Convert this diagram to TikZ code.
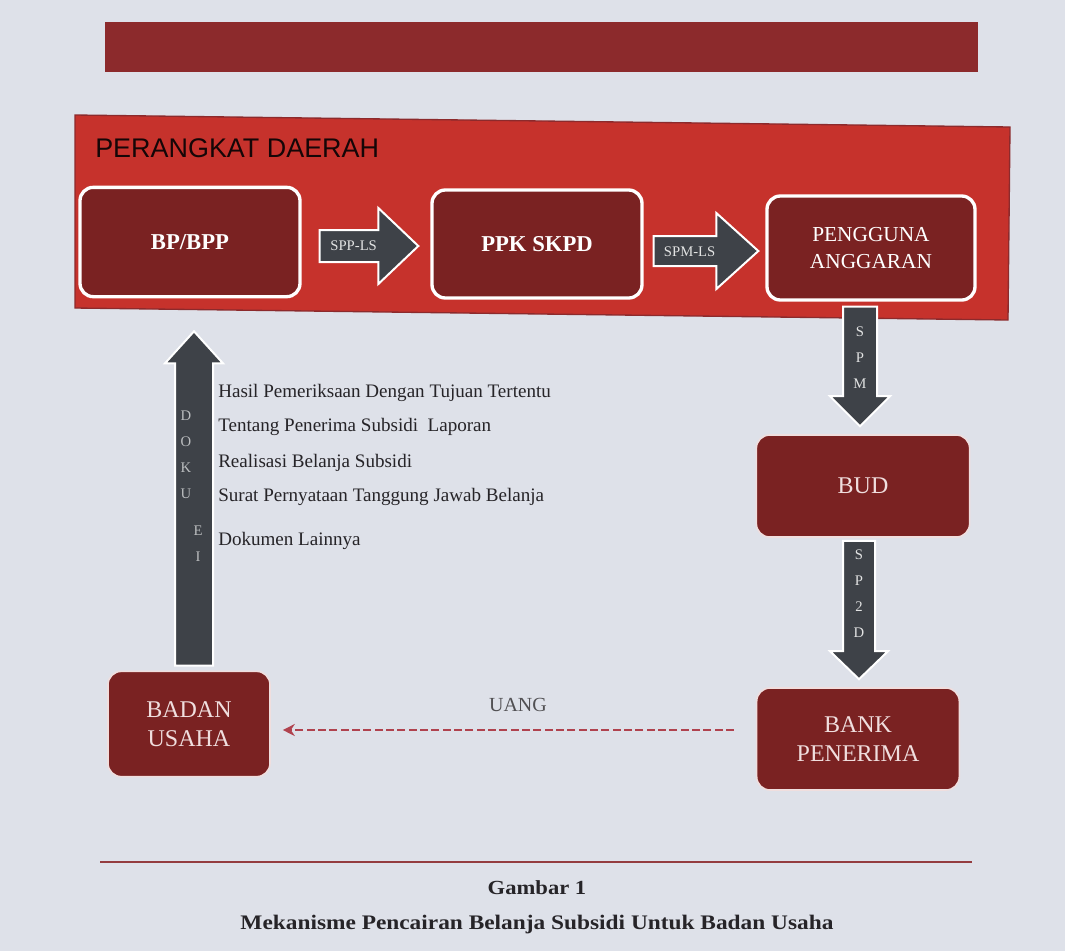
\documentclass[tikz,border=0pt]{standalone}
\usepackage{fontspec}
\setmainfont{Liberation Serif}
\newfontfamily\headfont{Liberation Sans}
\newfontfamily\capfont{Liberation Serif}[FakeStretch=1.13]
\usetikzlibrary{calc,arrows.meta}

\definecolor{paper}{RGB}{222,225,233}
\definecolor{barred}{RGB}{140,42,44}
\definecolor{panelred}{RGB}{198,50,44}
\definecolor{boxred}{RGB}{122,34,34}
\definecolor{boxedge}{RGB}{240,222,222}
\definecolor{arrgrey}{RGB}{62,66,72}
\definecolor{cashred}{RGB}{176,66,78}
\definecolor{inkgrey}{RGB}{38,36,40}

\tikzset{
  unitbox/.style={draw=white, line width=2.5pt, fill=boxred, rounded corners=10pt,
    text=white, align=center, inner sep=2pt},
  lowbox/.style={unitbox, draw=boxedge, line width=1.2pt, text=boxedge},
  blockarrow/.style={draw=white, line width=1.5pt, fill=arrgrey, line join=miter},
  arrlabel/.style={text=white!85!arrgrey, font=\fontsize{11}{11}\selectfont, inner sep=0pt},
  stacklabel/.style={arrlabel, align=center, font=\fontsize{11}{19.5}\selectfont},
  doclist/.style={anchor=west, text=inkgrey, font=\fontsize{14.3}{16}\selectfont, inner sep=0pt},
}

% block arrow: from, to, half shaft, half head, head length (pt)
\newcommand{\blockarr}[5]{%
  \draw[blockarrow] let \p1=(#1), \p2=(#2), \n1={atan2(\y2-\y1,\x2-\x1)},
    \n2={veclen(\x2-\x1,\y2-\y1)} in [shift={(\p1)}, rotate=\n1]
    (0pt,-#3pt) -- ({\n2-#5pt},-#3pt) -- ({\n2-#5pt},-#4pt) -- (\n2,0pt)
    -- ({\n2-#5pt},#4pt) -- ({\n2-#5pt},#3pt) -- (0pt,#3pt) -- cycle;}

\begin{document}
\begin{tikzpicture}[x=0.75pt, y=-0.75pt]
  \fill[paper] (0,0) rectangle (1065,951);
  \useasboundingbox (0,0) rectangle (1065,951);

  % header bar and panel
  \fill[barred] (105,22) rectangle (978,72);
  \filldraw[fill=panelred, draw=barred, line width=1pt]
    (75,115) -- (1010,127) -- (1008,320) -- (75,308) -- cycle;
  \node (pd) at (95,148) [anchor=west, inner sep=0pt, text=black!85!barred,
    font=\headfont\fontsize{20.2}{20}\selectfont] {PERANGKAT DAERAH};

  % units
  \node (bpp) at (190,242) [unitbox, minimum width=165pt, minimum height=82pt,
    font=\bfseries\fontsize{17}{17}\selectfont] {BP/BPP};
  \node (ppk) at (537,244) [unitbox, minimum width=157.5pt, minimum height=81pt,
    font=\bfseries\fontsize{17}{17}\selectfont] {PPK SKPD};
  \node (pa) at (871,248) [unitbox, minimum width=156pt, minimum height=78pt,
    font=\fontsize{16}{20}\selectfont] {PENGGUNA\\ANGGARAN};
  \node (bud) at (863,486) [lowbox, minimum width=160pt, minimum height=76.5pt,
    font=\fontsize{18}{18}\selectfont] {BUD};
  \node (bank) at (858,739) [lowbox, minimum width=152pt, minimum height=76.5pt,
    font=\fontsize{18}{22}\selectfont] {BANK\\PENERIMA};
  \node (bu) at (189,724) [lowbox, minimum width=121.5pt, minimum height=79pt,
    font=\fontsize{18}{22}\selectfont] {BADAN\\USAHA};

  % flows
  \blockarr{$(bpp.east)+(18,4)$}{$(ppk.west)+(-12,2)$}{12}{28.5}{30}
  \node (spp) at ($(bpp.east)+(52,4)$) [arrlabel] {SPP-LS};
  \blockarr{$(ppk.east)+(10,7)$}{$(pa.west)+(-7,3)$}{11.25}{28.5}{31.5}
  \node (spm) at ($(ppk.east)+(46,8)$) [arrlabel] {SPM-LS};
  \blockarr{$(pa.south)+(-11,5)$}{$(bud.north)+(-3,-8)$}{12.75}{22.5}{22.5}
  \node (spmv) at ($(pa.south)+(-11,56)$) [stacklabel] {S\\P\\M};
  \blockarr{$(bud.south)+(-4,3)$}{$(bank.north)+(1,-8)$}{12}{21.75}{21}
  \node (sp2d) at ($(bud.south)+(-4,56)$) [stacklabel] {S\\P\\2\\D};
  \blockarr{$(bu.north)+(5,-5)$}{$(bpp.south)+(4,33)$}{14.25}{21.75}{24}
  \node (dok1) at ($(bpp.south)+(-4,156)$) [stacklabel, text=white!65!arrgrey] {D\\O\\K\\U};
  \node (dok2) at ($(bpp.south)+(8,245)$) [stacklabel, text=white!65!arrgrey] {E\\I};

  % documents
  \node (l1) at (218,393) [doclist] {Hasil Pemeriksaan Dengan Tujuan Tertentu};
  \node (l2) at (218,427) [doclist] {Tentang Penerima Subsidi\ \ Laporan};
  \node (l3) at (218,463) [doclist] {Realisasi Belanja Subsidi};
  \node (l4) at (218,497) [doclist] {Surat Pernyataan Tanggung Jawab Belanja};
  \node (l5) at (218,541) [doclist] {Dokumen Lainnya};

  % money
  \draw[cashred, line width=1.6pt, dash pattern=on 6pt off 2.5pt, -{Stealth[length=9pt,width=9pt]}]
    ($(bank.west)+(-22,-9)$) -- ($(bu.east)+(12,6)$);
  \node (uang) at (518,705) [text=inkgrey!80, font=\fontsize{15}{15}\selectfont] {UANG};

  % caption
  \draw[barred!90!paper, line width=1.5pt] (100,862) -- (972,862);
  \node (cap1) at (537,888) [text=inkgrey, font=\capfont\bfseries\fontsize{15}{15}\selectfont] {Gambar 1};
  \node (cap2) at (537,925) [text=inkgrey, font=\capfont\bfseries\fontsize{15.5}{15}\selectfont]
    {Mekanisme Pencairan Belanja Subsidi Untuk Badan Usaha};
\end{tikzpicture}
\end{document}
